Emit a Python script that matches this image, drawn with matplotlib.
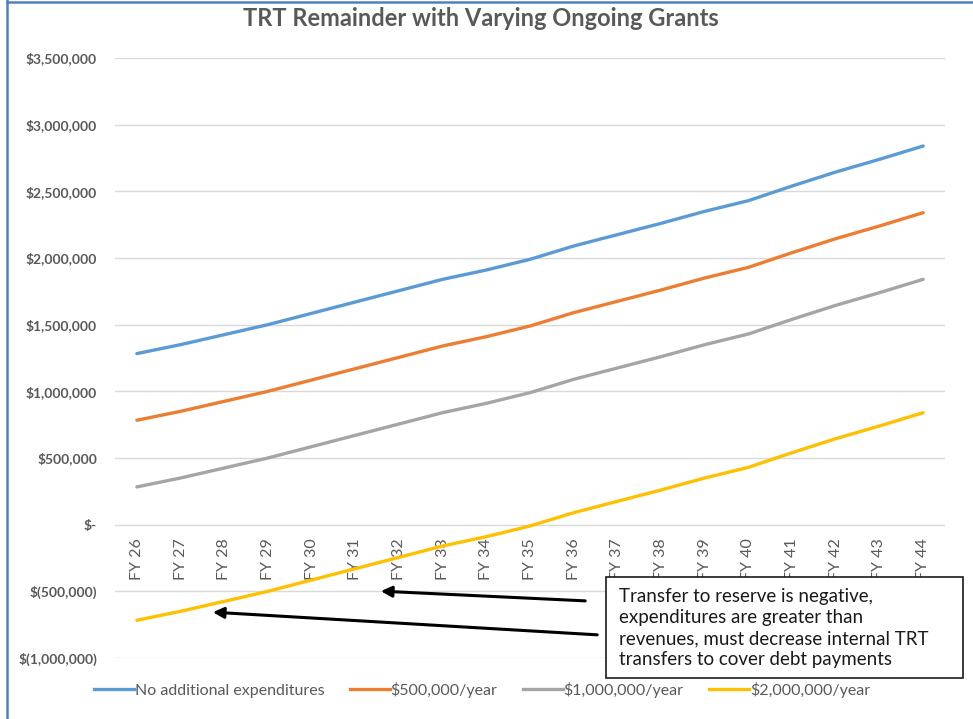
import matplotlib
matplotlib.use("Agg")
import matplotlib.pyplot as plt
from matplotlib.lines import Line2D
from matplotlib.patches import Rectangle
from matplotlib.ticker import FuncFormatter

plt.rcParams['font.family'] = ['Lato', 'DejaVu Sans']

# data
years = ["FY 26", "FY 27", "FY 28", "FY 29", "FY 30", "FY 31", "FY 32", "FY 33", "FY 34", "FY 35",
         "FY 36", "FY 37", "FY 38", "FY 39", "FY 40", "FY 41", "FY 42", "FY 43", "FY 44"]
no_extra = [1283000, 1350000, 1425000, 1500000, 1585000, 1670000, 1755000, 1840000, 1910000, 1990000,
            2090000, 2175000, 2260000, 2350000, 2430000, 2540000, 2645000, 2740000, 2840000]
grant_500k = [783000, 850000, 925000, 1000000, 1085000, 1170000, 1255000, 1340000, 1410000, 1490000,
              1590000, 1675000, 1760000, 1850000, 1930000, 2040000, 2145000, 2240000, 2340000]
grant_1m = [283000, 350000, 425000, 500000, 585000, 670000, 755000, 840000, 910000, 990000,
            1090000, 1175000, 1260000, 1350000, 1430000, 1540000, 1645000, 1740000, 1840000]
grant_2m = [-717000, -650000, -575000, -500000, -415000, -330000, -245000, -160000, -90000, -10000,
            90000, 175000, 260000, 350000, 430000, 540000, 645000, 740000, 840000]

series = [
    ("No additional expenditures", no_extra, "#5B9BD5"),
    ("$500,000/year", grant_500k, "#ED7D31"),
    ("$1,000,000/year", grant_1m, "#A5A5A5"),
    ("$2,000,000/year", grant_2m, "#FFC000"),
]

W, H = 973, 719
fig = plt.figure(figsize=(W / 100, H / 100), dpi=100)
fig.patch.set_facecolor("white")

def fx(px):
    return px / W

def fy(py):
    return 1 - py / H

ax = fig.add_axes([fx(115), fy(658), fx(945) - fx(115), fy(58) - fy(658)])

x = list(range(len(years)))
for name, vals, col in series:
    ax.plot(x, vals, color=col, lw=2.4, label=name, solid_capstyle="round")

ax.set_xlim(-0.5, len(years) - 0.5)
ax.set_ylim(-1000000, 3500000)
ax.set_yticks(range(-1000000, 3500001, 500000))
ax.grid(axis="y", color="#D9D9D9", lw=1)
ax.set_axisbelow(True)
for s in ax.spines.values():
    s.set_visible(False)
ax.spines["bottom"].set_position(("data", 0))


def money(v, pos):
    if v == 0:
        return "$-"
    if v < 0:
        return "$({:,.0f})".format(-v)
    return "${:,.0f}".format(v)


ax.yaxis.set_major_formatter(FuncFormatter(money))
ax.set_xticks(x)
ax.set_xticklabels(years, rotation=90, va="top", ha="center")
ax.tick_params(axis="x", length=0, pad=10, labelsize=11.5, labelcolor="#595959")
ax.tick_params(axis="y", length=0, pad=13, labelsize=10, labelcolor="#595959")
for t in ax.get_yticklabels():
    t.set_fontweight("bold")

fig.text(fx(481), fy(18), "TRT Remainder with Varying Ongoing Grants", ha="center", va="center",
         fontsize=17, fontweight="bold", color="#595959")

handles = [Line2D([0], [0], color=c, lw=2.4) for _, _, c in series]
fig.legend(handles, [n for n, _, _ in series], loc="center", bbox_to_anchor=(fx(482), fy(690)),
           ncol=4, frameon=False, fontsize=11.5, labelcolor="#595959", handlelength=2.5,
           handletextpad=0.05, columnspacing=1.6)

# note box and arrows
fig.patches.append(Rectangle((fx(606), fy(678)), fx(963) - fx(606), fy(577) - fy(678),
                             transform=fig.transFigure, facecolor="white", edgecolor="#1a1a1a",
                             lw=1.2, zorder=5))
note = ("Transfer to reserve is negative,\nexpenditures are greater than\n"
        "revenues, must decrease internal TRT\ntransfers to cover debt payments")
fig.text(fx(619), fy(628), note, ha="left", va="center", fontsize=13.5, color="#1a1a1a",
         linespacing=1.27, zorder=6)

ax.annotate("", xy=(fx(378), fy(591)), xycoords="figure fraction",
            xytext=(fx(588), fy(601)), textcoords="figure fraction",
            arrowprops=dict(arrowstyle="-|>", color="black", lw=2.2, mutation_scale=16))
ax.annotate("", xy=(fx(210), fy(612)), xycoords="figure fraction",
            xytext=(fx(600), fy(635)), textcoords="figure fraction",
            arrowprops=dict(arrowstyle="-|>", color="black", lw=2.2, mutation_scale=16))

# blue frame of the screenshot
fig.add_artist(Line2D([fx(7), fx(7)], [0, 1], transform=fig.transFigure, color="#4F81BD", lw=1.8))
fig.add_artist(Line2D([fx(7), 1], [fy(1.5), fy(1.5)], transform=fig.transFigure, color="#4F81BD", lw=1.8))

fig.savefig("out.png", dpi=100)
